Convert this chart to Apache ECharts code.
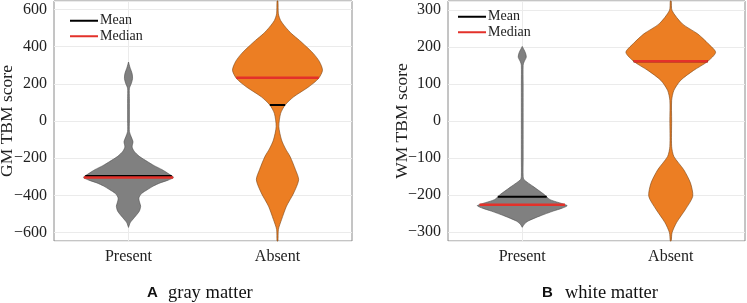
<!DOCTYPE html>
<html>
<head>
<meta charset="utf-8">
<script src="https://cdn.jsdelivr.net/npm/echarts@6/dist/echarts.min.js"></script>
<style>
  html, body { margin: 0; padding: 0; background: #fff; }
  #chart { width: 747px; height: 303px; }
</style>
</head>
<body>
<div id="chart"></div>
<script>
// categories
var groups = ['Present', 'Absent'];

// violin outlines: y values and relative half-width (1 = widest)
var gmPresentY = [317, 290, 255, 228, 200, 177, 120, 0, -57, -85, -111, -140, -164, -190, -218, -240, -262, -285, -303, -318, -333, -350, -369, -390, -414, -440, -458, -485, -519, -546, -572];
var gmPresentW = [0, .03, .08, .09, .06, .02, .02, .02, .02, .06, .10, .08, .13, .24, .42, .57, .75, .90, 1.0, .88, .70, .55, .42, .29, .23, .25, .27, .24, .13, .04, 0];
var gmAbsentY = [645, 576, 540, 504, 470, 433, 400, 362, 320, 273, 228, 183, 130, 86, 41, -30, -102, -150, -191, -262, -316, -387, -458, -530, -583, -645];
var gmAbsentW = [.01, .02, .07, .18, .31, .49, .64, .80, .93, 1.0, .91, .69, .36, .17, .07, .03, .09, .18, .28, .40, .47, .36, .20, .09, .02, .01];
var wmPresentY = [202, 185, 173, 160, 151, 100, 0, -100, -150, -159, -177, -199, -213, -229, -236, -244, -257, -271, -280, -288];
var wmPresentW = [0, .07, .09, .04, .02, .02, .02, .02, .02, .04, .24, .49, .62, 1.0, .89, .69, .40, .13, .04, 0];
var wmAbsentY = [325, 299, 263, 236, 209, 186, 161, 137, 110, 83, 56, 0, -69, -96, -132, -168, -204, -239, -275, -302, -325];
var wmAbsentW = [.01, .03, .26, .60, .84, 1.0, .82, .51, .22, .07, .02, .02, .02, .07, .29, .44, .49, .33, .13, .03, .01];

// summary values
var gmMean = [-296, 86];
var gmMedian = [-304, 232];
var wmMean = [-205, 162];
var wmMedian = [-227, 162];

var fills = ['#808080', '#ec7e23'];
var edges = ['#4d4d4d', '#7a4515'];
var serif = '"Liberation Serif", "DejaVu Serif", serif';

var gmProfiles = [{ y: gmPresentY, w: gmPresentW }, { y: gmAbsentY, w: gmAbsentW }];
var wmProfiles = [{ y: wmPresentY, w: wmPresentW }, { y: wmAbsentY, w: wmAbsentW }];

function widthAt(p, v) {
    for (var i = 0; i < p.y.length - 1; i++) {
        if (v <= p.y[i] && v >= p.y[i + 1]) {
            var t = (p.y[i] - v) / (p.y[i] - p.y[i + 1]);
            return p.w[i] + t * (p.w[i + 1] - p.w[i]);
        }
    }
    return 0;
}

function violin(profiles) {
    return function (params, api) {
        var cat = api.value(0);
        var p = profiles[cat];
        var scale = api.size([1, 0])[0] * 0.302;
        var right = [], left = [];
        for (var i = 0; i < p.y.length; i++) {
            var c = api.coord([cat, p.y[i]]);
            right.push([c[0] + p.w[i] * scale, c[1]]);
            left.unshift([c[0] - p.w[i] * scale, c[1]]);
        }
        return {
            type: 'polygon',
            shape: { points: right.concat(left), smooth: 0.25 },
            style: { fill: fills[cat], stroke: edges[cat], lineWidth: 0.6 }
        };
    };
}

function statLine(profiles, width) {
    return function (params, api) {
        var cat = api.value(0);
        var v = api.value(1);
        var c = api.coord([cat, v]);
        var hw = widthAt(profiles[cat], v) * api.size([1, 0])[0] * 0.302;
        return {
            type: 'line',
            shape: { x1: c[0] - hw, y1: c[1], x2: c[0] + hw, y2: c[1] },
            style: { stroke: api.visual('color'), lineWidth: width }
        };
    };
}

function yAxisFor(idx, name, lim, gap) {
    return {
        type: 'value', gridIndex: idx, min: -lim, max: lim, splitNumber: 6,
        name: name, nameLocation: 'middle', nameGap: gap, nameMoveOverlap: false,
        nameTextStyle: { fontFamily: serif, fontSize: 17.5, color: '#222' },
        axisLine: { show: false }, axisTick: { show: false },
        axisLabel: {
            showMinLabel: false, showMaxLabel: false, margin: 7,
            fontFamily: serif, fontSize: 16, color: '#222',
            formatter: function (v) { return String(v).replace('-', '\u2212'); }
        },
        splitLine: { lineStyle: { color: '#ebebeb', width: 1 } }
    };
}

function xAxisFor(idx) {
    return {
        type: 'category', gridIndex: idx, data: groups,
        axisLine: { show: false }, axisTick: { show: false },
        axisLabel: { fontFamily: serif, fontSize: 16, color: '#222', margin: 8 },
        splitLine: { show: true, alignWithLabel: true, lineStyle: { color: '#ebebeb', width: 1 } }
    };
}

function legendFor(left, top, names) {
    return {
        orient: 'vertical', left: left, top: top, itemGap: 0, padding: 0,
        itemWidth: 28, itemHeight: 2, icon: 'rect',
        textStyle: { fontFamily: serif, fontSize: 14, color: '#222', lineHeight: 15.5, padding: [0, 0, 0, -3] },
        data: names
    };
}

var chart = echarts.init(document.getElementById('chart'));
chart.setOption({
    animation: false,
    grid: [
        { left: 54, right: 395, top: 1, bottom: 62, outerBoundsMode: 'none', show: true, borderColor: '#8a8a8a', borderWidth: 1 },
        { left: 448, right: 2, top: 1, bottom: 62, outerBoundsMode: 'none', show: true, borderColor: '#8a8a8a', borderWidth: 1 }
    ],
    xAxis: [xAxisFor(0), xAxisFor(1)],
    yAxis: [yAxisFor(0, 'GM TBM score', 645, 38), yAxisFor(1, 'WM TBM score', 325, 37)],
    legend: [legendFor(70, 13, ['Mean', 'Median']), legendFor(458, 9, ['Mean ', 'Median '])],
    series: [
        { type: 'custom', name: 'gm', xAxisIndex: 0, yAxisIndex: 0, renderItem: violin(gmProfiles), data: [[0], [1]] },
        { type: 'custom', name: 'Mean', xAxisIndex: 0, yAxisIndex: 0, itemStyle: { color: '#000' },
          renderItem: statLine(gmProfiles, 2), data: gmMean.map(function (v, i) { return [i, v]; }) },
        { type: 'custom', name: 'Median', xAxisIndex: 0, yAxisIndex: 0, itemStyle: { color: '#e3312a' },
          renderItem: statLine(gmProfiles, 2.5), data: gmMedian.map(function (v, i) { return [i, v]; }) },
        { type: 'custom', name: 'wm', xAxisIndex: 1, yAxisIndex: 1, renderItem: violin(wmProfiles), data: [[0], [1]] },
        { type: 'custom', name: 'Mean ', xAxisIndex: 1, yAxisIndex: 1, itemStyle: { color: '#000' },
          renderItem: statLine(wmProfiles, 2), data: wmMean.map(function (v, i) { return [i, v]; }) },
        { type: 'custom', name: 'Median ', xAxisIndex: 1, yAxisIndex: 1, itemStyle: { color: '#e3312a' },
          renderItem: statLine(wmProfiles, 2.5), data: wmMedian.map(function (v, i) { return [i, v]; }) }
    ],
    graphic: [
        { type: 'text', x: 147, y: 293, style: { text: 'A', font: 'bold 15px "Liberation Sans"', fill: '#111', verticalAlign: 'middle' } },
        { type: 'text', x: 168, y: 293, style: { text: 'gray matter', font: '18.5px "Liberation Serif"', fill: '#111', verticalAlign: 'middle' } },
        { type: 'text', x: 542, y: 293, style: { text: 'B', font: 'bold 15px "Liberation Sans"', fill: '#111', verticalAlign: 'middle' } },
        { type: 'text', x: 565, y: 293, style: { text: 'white matter', font: '18.5px "Liberation Serif"', fill: '#111', verticalAlign: 'middle' } }
    ]
});
</script>
</body>
</html>
